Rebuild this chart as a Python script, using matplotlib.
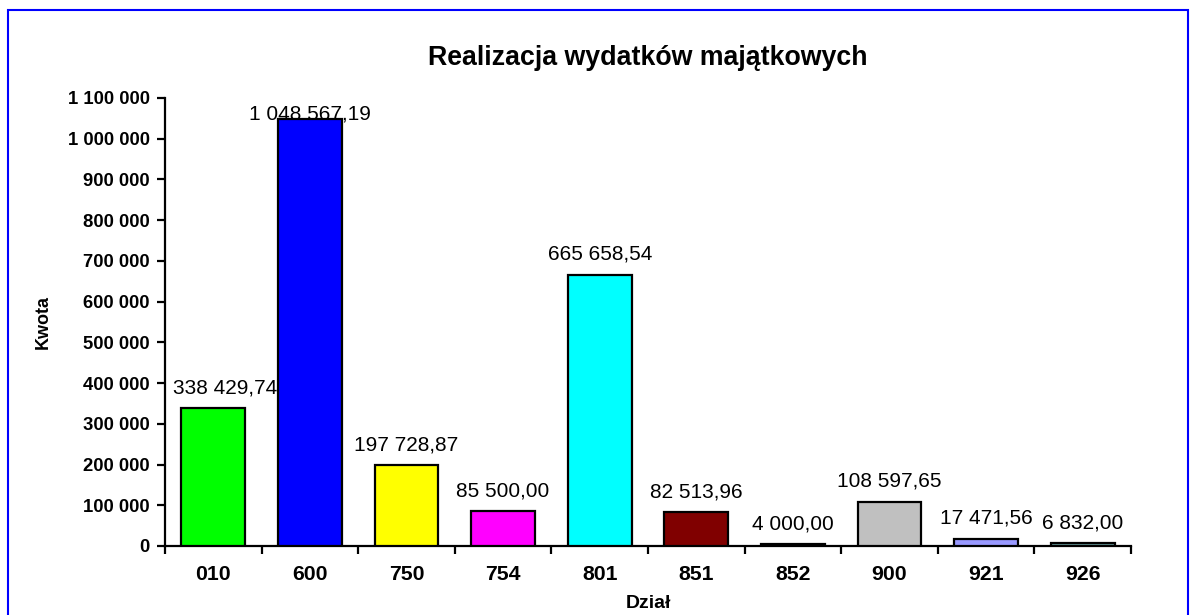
import matplotlib
matplotlib.use('Agg')
import matplotlib.pyplot as plt
from matplotlib import ticker
from matplotlib.patches import Rectangle
import matplotlib.transforms as mtransforms
import numpy as np

plt.rcParams['font.family'] = ['Liberation Sans', 'DejaVu Sans']

# dane
dzialy = ['010', '600', '750', '754', '801', '851', '852', '900', '921', '926']
kwoty = [338429.74, 1048567.19, 197728.87, 85500.00, 665658.54,
         82513.96, 4000.00, 108597.65, 17471.56, 6832.00]
kolory = ['#00FF00', '#0000FF', '#FFFF00', '#FF00FF', '#00FFFF',
          '#800000', '#336666', '#C0C0C0', '#9999FF', '#669999']
y_ticks = [0, 100000, 200000, 300000, 400000, 500000, 600000,
           700000, 800000, 900000, 1000000, 1100000]
y_max = 1100000


def pl_format(v, dec=0):
    # spacja jako separator tysiecy, przecinek dziesietny
    s = '{:,.{}f}'.format(v, dec)
    return s.replace(',', ' ').replace('.', ',')


W, H = 1196, 615
fig = plt.figure(figsize=(W / 100, H / 100), dpi=100)
ax = fig.add_axes([165 / W, 1 - 546 / H, (1131 - 165) / W, (546 - 98) / H])

x = np.arange(len(dzialy))
ax.bar(x, kwoty, width=0.66, color=kolory, edgecolor='black', linewidth=1.6, zorder=3)

# etykiety wartosci - nad slupkiem, ale nie wyzej niz obszar wykresu
gap = 37000
etykiety = []
for xi, v in zip(x, kwoty):
    t = ax.text(xi, min(v + gap, y_max - 52000), pl_format(v, 2),
                ha='center', va='baseline', fontsize=15, zorder=2)
    etykiety.append(t)

ax.set_xlim(-0.5, len(dzialy) - 0.5)
ax.set_ylim(0, y_max)
ax.set_yticks(y_ticks)
ax.yaxis.set_major_formatter(ticker.FuncFormatter(lambda v, p: pl_format(v)))

# kreski miedzy kategoriami, etykiety na srodku
ax.set_xticks(np.arange(len(dzialy) + 1) - 0.5)
ax.set_xticklabels([])
ax.set_xticks(x, minor=True)
ax.set_xticklabels(dzialy, minor=True, fontsize=15.3, fontweight='bold')
ax.tick_params(axis='x', which='major', length=6, width=1.6, direction='out')
ax.tick_params(axis='x', which='minor', length=0, pad=14)
ax.tick_params(axis='y', length=6, width=1.6, direction='out', pad=5)
for lab in ax.get_yticklabels():
    lab.set_fontweight('bold')
    lab.set_fontsize(13.3)

for s in ['top', 'right']:
    ax.spines[s].set_visible(False)
for s in ['left', 'bottom']:
    ax.spines[s].set_linewidth(1.6)

ax.set_ylabel('Kwota', fontsize=13, fontweight='bold')
ax.yaxis.set_label_coords(-0.117, 0.5)
ax.set_xlabel('Dział', fontsize=14, fontweight='bold')
ax.xaxis.set_label_coords(0.5, -0.109)

fig.text(648 / W, 1 - 58 / H, 'Realizacja wydatków majątkowych', ha='center', va='center',
         fontsize=19.3, fontweight='bold')

# niebieska ramka
fig.patches.append(Rectangle((8 / W, -0.05), (1188 - 8) / W, 1.05 - 10 / H,
                             transform=fig.transFigure, fill=False,
                             edgecolor='#0000FF', linewidth=1.5))

# etykieta wychodzaca poza lewa os - przesun w prawo
fig.canvas.draw()
r = fig.canvas.get_renderer()
ax_left = ax.get_window_extent(r).x0
for t in etykiety:
    bb = t.get_window_extent(r)
    if bb.x0 < ax_left + 8:
        dx = ax_left + 8 - bb.x0
        t.set_transform(t.get_transform() + mtransforms.Affine2D().translate(dx, 0))

fig.savefig('out.png', dpi=100)
